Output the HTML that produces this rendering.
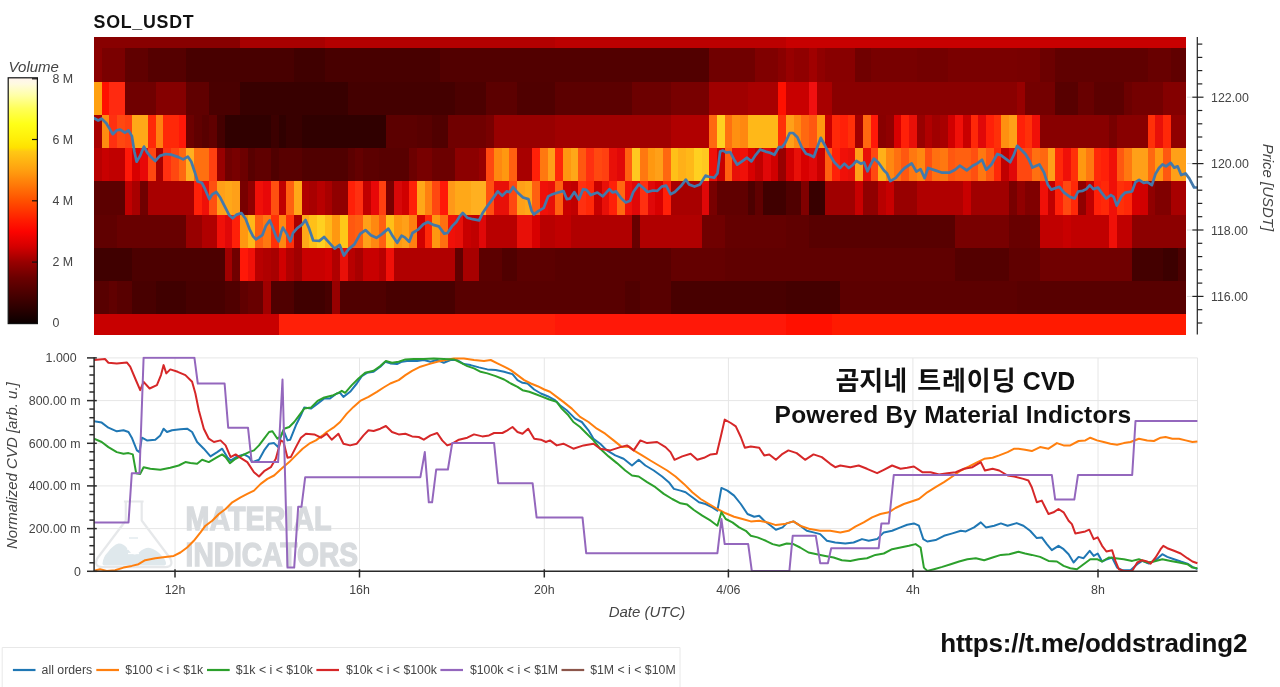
<!DOCTYPE html>
<html lang="ko"><head><meta charset="utf-8"><title>SOL_USDT CVD</title>
<style>
html,body{margin:0;padding:0;background:#fff;}
body{width:1280px;height:687px;overflow:hidden;position:relative;font-family:"Liberation Sans", Arial, sans-serif;}
svg{position:absolute;left:0;top:0;display:block;}
text{font-family:"Liberation Sans", Arial, sans-serif;}
.tk{font-size:12.4px;fill:#444;}
.lg{font-size:12.3px;fill:#444;}
.ax{font-size:15px;font-style:italic;fill:#444;}
.k{font-family:"Liberation Sans", "Noto Sans CJK KR", "NanumGothic", sans-serif;font-weight:bold;fill:#111;}
</style></head><body>
<svg width="1280" height="687" viewBox="0 0 1280 687">
<defs>
<linearGradient id="cb" x1="0" y1="1" x2="0" y2="0">
<stop offset="0.0000" stop-color="#0a0000"/>
<stop offset="0.0625" stop-color="#2c0000"/>
<stop offset="0.1250" stop-color="#4c0000"/>
<stop offset="0.1875" stop-color="#6c0000"/>
<stop offset="0.2500" stop-color="#980000"/>
<stop offset="0.3125" stop-color="#d40000"/>
<stop offset="0.3750" stop-color="#fc0400"/>
<stop offset="0.4200" stop-color="#ff1c00"/>
<stop offset="0.5000" stop-color="#ff5000"/>
<stop offset="0.5625" stop-color="#ff7808"/>
<stop offset="0.6250" stop-color="#ffa010"/>
<stop offset="0.7000" stop-color="#ffc814"/>
<stop offset="0.7150" stop-color="#ffe000"/>
<stop offset="0.7500" stop-color="#ffee08"/>
<stop offset="0.8125" stop-color="#ffff18"/>
<stop offset="0.8750" stop-color="#ffff58"/>
<stop offset="0.9300" stop-color="#ffffa8"/>
<stop offset="0.9750" stop-color="#fffae0"/>
<stop offset="1.0000" stop-color="#fff4ee"/>
</linearGradient>
<clipPath id="cp1"><rect x="94" y="37" width="1104" height="298"/></clipPath>
<clipPath id="cp2"><rect x="94" y="356.5" width="1104" height="215.5"/></clipPath>
</defs>
<rect x="0" y="0" width="1280" height="687" fill="#ffffff"/>
<text x="93.6" y="27.5" font-size="17.8" font-weight="bold" fill="#111" textLength="100" lengthAdjust="spacing">SOL_USDT</text>
<g shape-rendering="crispEdges">
<rect x="94.00" y="37.00" width="146.41" height="11.30" fill="#880000"/>
<rect x="240.11" y="37.00" width="84.89" height="11.30" fill="#a80000"/>
<rect x="324.70" y="37.00" width="231.00" height="11.30" fill="#b40000"/>
<rect x="555.41" y="37.00" width="231.00" height="11.30" fill="#bc0000"/>
<rect x="786.11" y="37.00" width="400.19" height="11.30" fill="#c80000"/>
<rect x="94.00" y="48.00" width="7.99" height="33.80" fill="#8a0000"/>
<rect x="101.69" y="48.00" width="23.37" height="33.80" fill="#7a0000"/>
<rect x="124.76" y="48.00" width="23.37" height="33.80" fill="#600000"/>
<rect x="147.83" y="48.00" width="38.75" height="33.80" fill="#550000"/>
<rect x="186.28" y="48.00" width="107.96" height="33.80" fill="#480000"/>
<rect x="293.94" y="48.00" width="31.06" height="33.80" fill="#400000"/>
<rect x="324.70" y="48.00" width="115.65" height="33.80" fill="#480000"/>
<rect x="440.06" y="48.00" width="269.45" height="33.80" fill="#520000"/>
<rect x="709.21" y="48.00" width="46.44" height="33.80" fill="#700000"/>
<rect x="755.35" y="48.00" width="23.37" height="33.80" fill="#800000"/>
<rect x="778.42" y="48.00" width="7.99" height="33.80" fill="#8a0000"/>
<rect x="786.11" y="48.00" width="7.99" height="33.80" fill="#980000"/>
<rect x="793.80" y="48.00" width="15.68" height="33.80" fill="#900000"/>
<rect x="809.18" y="48.00" width="7.99" height="33.80" fill="#a00000"/>
<rect x="816.87" y="48.00" width="7.99" height="33.80" fill="#900000"/>
<rect x="824.56" y="48.00" width="31.06" height="33.80" fill="#880000"/>
<rect x="855.32" y="48.00" width="15.68" height="33.80" fill="#700000"/>
<rect x="870.70" y="48.00" width="46.44" height="33.80" fill="#780000"/>
<rect x="916.85" y="48.00" width="31.06" height="33.80" fill="#740000"/>
<rect x="947.61" y="48.00" width="69.51" height="33.80" fill="#7a0000"/>
<rect x="1016.82" y="48.00" width="23.37" height="33.80" fill="#780000"/>
<rect x="1039.89" y="48.00" width="15.68" height="33.80" fill="#6c0000"/>
<rect x="1055.27" y="48.00" width="92.58" height="33.80" fill="#600000"/>
<rect x="1147.55" y="48.00" width="23.37" height="33.80" fill="#680000"/>
<rect x="1170.62" y="48.00" width="15.68" height="33.80" fill="#600000"/>
<rect x="94.00" y="81.50" width="7.99" height="33.80" fill="#ffa010"/>
<rect x="101.69" y="81.50" width="7.99" height="33.80" fill="#ff1000"/>
<rect x="109.38" y="81.50" width="15.68" height="33.80" fill="#ff2a10"/>
<rect x="124.76" y="81.50" width="31.06" height="33.80" fill="#700000"/>
<rect x="155.52" y="81.50" width="31.06" height="33.80" fill="#850000"/>
<rect x="186.28" y="81.50" width="23.37" height="33.80" fill="#600000"/>
<rect x="209.35" y="81.50" width="31.06" height="33.80" fill="#4a0000"/>
<rect x="240.11" y="81.50" width="107.96" height="33.80" fill="#380000"/>
<rect x="347.77" y="81.50" width="107.96" height="33.80" fill="#440000"/>
<rect x="455.44" y="81.50" width="31.06" height="33.80" fill="#4c0000"/>
<rect x="486.20" y="81.50" width="31.06" height="33.80" fill="#5c0000"/>
<rect x="516.96" y="81.50" width="38.75" height="33.80" fill="#500000"/>
<rect x="555.41" y="81.50" width="77.20" height="33.80" fill="#5c0000"/>
<rect x="632.31" y="81.50" width="38.75" height="33.80" fill="#6c0000"/>
<rect x="670.76" y="81.50" width="38.75" height="33.80" fill="#780000"/>
<rect x="709.21" y="81.50" width="38.75" height="33.80" fill="#a00000"/>
<rect x="747.66" y="81.50" width="31.06" height="33.80" fill="#a80000"/>
<rect x="778.42" y="81.50" width="7.99" height="33.80" fill="#ff1000"/>
<rect x="786.11" y="81.50" width="23.37" height="33.80" fill="#c80000"/>
<rect x="809.18" y="81.50" width="7.99" height="33.80" fill="#f01010"/>
<rect x="816.87" y="81.50" width="15.68" height="33.80" fill="#a80000"/>
<rect x="832.25" y="81.50" width="184.86" height="33.80" fill="#8a0000"/>
<rect x="1016.82" y="81.50" width="7.99" height="33.80" fill="#980000"/>
<rect x="1024.51" y="81.50" width="31.06" height="33.80" fill="#740000"/>
<rect x="1055.27" y="81.50" width="23.37" height="33.80" fill="#580000"/>
<rect x="1078.34" y="81.50" width="15.68" height="33.80" fill="#680000"/>
<rect x="1093.72" y="81.50" width="31.06" height="33.80" fill="#5c0000"/>
<rect x="1124.48" y="81.50" width="7.99" height="33.80" fill="#6c0000"/>
<rect x="1132.17" y="81.50" width="31.06" height="33.80" fill="#740000"/>
<rect x="1162.93" y="81.50" width="23.37" height="33.80" fill="#840000"/>
<rect x="94.00" y="115.00" width="7.99" height="33.30" fill="#a80000"/>
<rect x="101.69" y="115.00" width="7.99" height="33.30" fill="#ff8c10"/>
<rect x="109.38" y="115.00" width="7.99" height="33.30" fill="#ff3010"/>
<rect x="117.07" y="115.00" width="7.99" height="33.30" fill="#ff4810"/>
<rect x="124.76" y="115.00" width="7.99" height="33.30" fill="#ff4010"/>
<rect x="132.45" y="115.00" width="15.68" height="33.30" fill="#ffa818"/>
<rect x="147.83" y="115.00" width="7.99" height="33.30" fill="#ff2808"/>
<rect x="155.52" y="115.00" width="7.99" height="33.30" fill="#ff8010"/>
<rect x="163.21" y="115.00" width="15.68" height="33.30" fill="#ff2808"/>
<rect x="178.59" y="115.00" width="7.99" height="33.30" fill="#ff1808"/>
<rect x="186.28" y="115.00" width="7.99" height="33.30" fill="#6c0000"/>
<rect x="193.97" y="115.00" width="7.99" height="33.30" fill="#600000"/>
<rect x="201.66" y="115.00" width="7.99" height="33.30" fill="#580000"/>
<rect x="209.35" y="115.00" width="7.99" height="33.30" fill="#600000"/>
<rect x="217.04" y="115.00" width="7.99" height="33.30" fill="#440000"/>
<rect x="224.73" y="115.00" width="46.44" height="33.30" fill="#300000"/>
<rect x="270.87" y="115.00" width="7.99" height="33.30" fill="#3c0000"/>
<rect x="278.56" y="115.00" width="7.99" height="33.30" fill="#300000"/>
<rect x="286.25" y="115.00" width="15.68" height="33.30" fill="#380000"/>
<rect x="301.63" y="115.00" width="84.89" height="33.30" fill="#300000"/>
<rect x="386.23" y="115.00" width="31.06" height="33.30" fill="#5c0000"/>
<rect x="416.99" y="115.00" width="15.68" height="33.30" fill="#580000"/>
<rect x="432.37" y="115.00" width="15.68" height="33.30" fill="#500000"/>
<rect x="447.75" y="115.00" width="38.75" height="33.30" fill="#700000"/>
<rect x="486.20" y="115.00" width="7.99" height="33.30" fill="#780000"/>
<rect x="493.89" y="115.00" width="61.82" height="33.30" fill="#980000"/>
<rect x="555.41" y="115.00" width="115.65" height="33.30" fill="#a00000"/>
<rect x="670.76" y="115.00" width="38.75" height="33.30" fill="#b00000"/>
<rect x="709.21" y="115.00" width="7.99" height="33.30" fill="#ff6810"/>
<rect x="716.90" y="115.00" width="7.99" height="33.30" fill="#ffd020"/>
<rect x="724.59" y="115.00" width="7.99" height="33.30" fill="#ff7010"/>
<rect x="732.28" y="115.00" width="7.99" height="33.30" fill="#ff9010"/>
<rect x="739.97" y="115.00" width="7.99" height="33.30" fill="#ff8810"/>
<rect x="747.66" y="115.00" width="31.06" height="33.30" fill="#ffb818"/>
<rect x="778.42" y="115.00" width="7.99" height="33.30" fill="#ff3008"/>
<rect x="786.11" y="115.00" width="7.99" height="33.30" fill="#ffa018"/>
<rect x="793.80" y="115.00" width="7.99" height="33.30" fill="#ff8810"/>
<rect x="801.49" y="115.00" width="7.99" height="33.30" fill="#ff6810"/>
<rect x="809.18" y="115.00" width="7.99" height="33.30" fill="#ff5810"/>
<rect x="816.87" y="115.00" width="7.99" height="33.30" fill="#ff9810"/>
<rect x="824.56" y="115.00" width="7.99" height="33.30" fill="#c80000"/>
<rect x="832.25" y="115.00" width="7.99" height="33.30" fill="#ff2808"/>
<rect x="839.94" y="115.00" width="7.99" height="33.30" fill="#ff2008"/>
<rect x="847.63" y="115.00" width="7.99" height="33.30" fill="#ff3008"/>
<rect x="855.32" y="115.00" width="7.99" height="33.30" fill="#a00000"/>
<rect x="863.01" y="115.00" width="7.99" height="33.30" fill="#ff6810"/>
<rect x="870.70" y="115.00" width="7.99" height="33.30" fill="#ff1808"/>
<rect x="878.39" y="115.00" width="7.99" height="33.30" fill="#880000"/>
<rect x="886.08" y="115.00" width="7.99" height="33.30" fill="#900000"/>
<rect x="893.77" y="115.00" width="7.99" height="33.30" fill="#d80000"/>
<rect x="901.46" y="115.00" width="7.99" height="33.30" fill="#ff2008"/>
<rect x="909.15" y="115.00" width="7.99" height="33.30" fill="#e81008"/>
<rect x="916.85" y="115.00" width="7.99" height="33.30" fill="#980000"/>
<rect x="924.54" y="115.00" width="7.99" height="33.30" fill="#b00000"/>
<rect x="932.23" y="115.00" width="7.99" height="33.30" fill="#a00000"/>
<rect x="939.92" y="115.00" width="7.99" height="33.30" fill="#a80000"/>
<rect x="947.61" y="115.00" width="7.99" height="33.30" fill="#d00000"/>
<rect x="955.30" y="115.00" width="7.99" height="33.30" fill="#f01008"/>
<rect x="962.99" y="115.00" width="7.99" height="33.30" fill="#c80000"/>
<rect x="970.68" y="115.00" width="7.99" height="33.30" fill="#ff2808"/>
<rect x="978.37" y="115.00" width="7.99" height="33.30" fill="#e00808"/>
<rect x="986.06" y="115.00" width="7.99" height="33.30" fill="#ff2008"/>
<rect x="993.75" y="115.00" width="7.99" height="33.30" fill="#ff3008"/>
<rect x="1001.44" y="115.00" width="7.99" height="33.30" fill="#ff9010"/>
<rect x="1009.13" y="115.00" width="7.99" height="33.30" fill="#ffa018"/>
<rect x="1016.82" y="115.00" width="7.99" height="33.30" fill="#ff2008"/>
<rect x="1024.51" y="115.00" width="7.99" height="33.30" fill="#ff3008"/>
<rect x="1032.20" y="115.00" width="7.99" height="33.30" fill="#f01008"/>
<rect x="1039.89" y="115.00" width="69.51" height="33.30" fill="#880000"/>
<rect x="1109.10" y="115.00" width="7.99" height="33.30" fill="#780000"/>
<rect x="1116.79" y="115.00" width="31.06" height="33.30" fill="#880000"/>
<rect x="1147.55" y="115.00" width="7.99" height="33.30" fill="#ff3008"/>
<rect x="1155.24" y="115.00" width="7.99" height="33.30" fill="#e81008"/>
<rect x="1162.93" y="115.00" width="7.99" height="33.30" fill="#ff2808"/>
<rect x="1170.62" y="115.00" width="15.68" height="33.30" fill="#900000"/>
<rect x="94.00" y="148.00" width="7.99" height="33.30" fill="#b80000"/>
<rect x="101.69" y="148.00" width="7.99" height="33.30" fill="#c80000"/>
<rect x="109.38" y="148.00" width="15.68" height="33.30" fill="#c00000"/>
<rect x="124.76" y="148.00" width="7.99" height="33.30" fill="#ff1808"/>
<rect x="132.45" y="148.00" width="7.99" height="33.30" fill="#d80000"/>
<rect x="140.14" y="148.00" width="7.99" height="33.30" fill="#e80808"/>
<rect x="147.83" y="148.00" width="7.99" height="33.30" fill="#ff4810"/>
<rect x="155.52" y="148.00" width="7.99" height="33.30" fill="#a80000"/>
<rect x="163.21" y="148.00" width="7.99" height="33.30" fill="#ff3010"/>
<rect x="170.90" y="148.00" width="7.99" height="33.30" fill="#ff4810"/>
<rect x="178.59" y="148.00" width="7.99" height="33.30" fill="#ff6810"/>
<rect x="186.28" y="148.00" width="7.99" height="33.30" fill="#ffb020"/>
<rect x="193.97" y="148.00" width="15.68" height="33.30" fill="#ff7010"/>
<rect x="209.35" y="148.00" width="7.99" height="33.30" fill="#ff4010"/>
<rect x="217.04" y="148.00" width="7.99" height="33.30" fill="#980000"/>
<rect x="224.73" y="148.00" width="7.99" height="33.30" fill="#700000"/>
<rect x="232.42" y="148.00" width="7.99" height="33.30" fill="#780000"/>
<rect x="240.11" y="148.00" width="7.99" height="33.30" fill="#6c0000"/>
<rect x="247.80" y="148.00" width="7.99" height="33.30" fill="#580000"/>
<rect x="255.49" y="148.00" width="15.68" height="33.30" fill="#600000"/>
<rect x="270.87" y="148.00" width="7.99" height="33.30" fill="#500000"/>
<rect x="278.56" y="148.00" width="23.37" height="33.30" fill="#580000"/>
<rect x="301.63" y="148.00" width="46.44" height="33.30" fill="#500000"/>
<rect x="347.77" y="148.00" width="7.99" height="33.30" fill="#5c0000"/>
<rect x="355.46" y="148.00" width="7.99" height="33.30" fill="#640000"/>
<rect x="363.15" y="148.00" width="15.68" height="33.30" fill="#5c0000"/>
<rect x="378.54" y="148.00" width="31.06" height="33.30" fill="#580000"/>
<rect x="409.30" y="148.00" width="7.99" height="33.30" fill="#6c0000"/>
<rect x="416.99" y="148.00" width="15.68" height="33.30" fill="#780000"/>
<rect x="432.37" y="148.00" width="23.37" height="33.30" fill="#6c0000"/>
<rect x="455.44" y="148.00" width="23.37" height="33.30" fill="#8c0000"/>
<rect x="478.51" y="148.00" width="7.99" height="33.30" fill="#980000"/>
<rect x="486.20" y="148.00" width="7.99" height="33.30" fill="#ff4810"/>
<rect x="493.89" y="148.00" width="7.99" height="33.30" fill="#ff8810"/>
<rect x="501.58" y="148.00" width="7.99" height="33.30" fill="#ff9810"/>
<rect x="509.27" y="148.00" width="7.99" height="33.30" fill="#ff6010"/>
<rect x="516.96" y="148.00" width="15.68" height="33.30" fill="#a80000"/>
<rect x="532.34" y="148.00" width="7.99" height="33.30" fill="#ff2008"/>
<rect x="540.03" y="148.00" width="7.99" height="33.30" fill="#ff7810"/>
<rect x="547.72" y="148.00" width="7.99" height="33.30" fill="#ffa018"/>
<rect x="555.41" y="148.00" width="7.99" height="33.30" fill="#ff2808"/>
<rect x="563.10" y="148.00" width="7.99" height="33.30" fill="#ff9810"/>
<rect x="570.79" y="148.00" width="7.99" height="33.30" fill="#ffa818"/>
<rect x="578.48" y="148.00" width="7.99" height="33.30" fill="#ff5810"/>
<rect x="586.17" y="148.00" width="7.99" height="33.30" fill="#ff3010"/>
<rect x="593.86" y="148.00" width="7.99" height="33.30" fill="#ff4810"/>
<rect x="601.55" y="148.00" width="7.99" height="33.30" fill="#ff4010"/>
<rect x="609.24" y="148.00" width="7.99" height="33.30" fill="#e81008"/>
<rect x="616.93" y="148.00" width="7.99" height="33.30" fill="#e00808"/>
<rect x="624.62" y="148.00" width="7.99" height="33.30" fill="#ff6010"/>
<rect x="632.31" y="148.00" width="7.99" height="33.30" fill="#ffc820"/>
<rect x="640.00" y="148.00" width="7.99" height="33.30" fill="#ff7810"/>
<rect x="647.69" y="148.00" width="7.99" height="33.30" fill="#ff9810"/>
<rect x="655.38" y="148.00" width="7.99" height="33.30" fill="#ffa018"/>
<rect x="663.07" y="148.00" width="7.99" height="33.30" fill="#ff6810"/>
<rect x="670.76" y="148.00" width="7.99" height="33.30" fill="#ffc018"/>
<rect x="678.45" y="148.00" width="7.99" height="33.30" fill="#ffb018"/>
<rect x="686.14" y="148.00" width="7.99" height="33.30" fill="#ffb818"/>
<rect x="693.83" y="148.00" width="7.99" height="33.30" fill="#ffd020"/>
<rect x="701.52" y="148.00" width="7.99" height="33.30" fill="#ffc820"/>
<rect x="709.21" y="148.00" width="7.99" height="33.30" fill="#f01008"/>
<rect x="716.90" y="148.00" width="7.99" height="33.30" fill="#c80000"/>
<rect x="724.59" y="148.00" width="7.99" height="33.30" fill="#ff6010"/>
<rect x="732.28" y="148.00" width="7.99" height="33.30" fill="#e81008"/>
<rect x="739.97" y="148.00" width="7.99" height="33.30" fill="#f01008"/>
<rect x="747.66" y="148.00" width="7.99" height="33.30" fill="#d80000"/>
<rect x="755.35" y="148.00" width="7.99" height="33.30" fill="#c00000"/>
<rect x="763.04" y="148.00" width="7.99" height="33.30" fill="#e00808"/>
<rect x="770.73" y="148.00" width="7.99" height="33.30" fill="#d00000"/>
<rect x="778.42" y="148.00" width="7.99" height="33.30" fill="#980000"/>
<rect x="786.11" y="148.00" width="7.99" height="33.30" fill="#d00000"/>
<rect x="793.80" y="148.00" width="7.99" height="33.30" fill="#e81008"/>
<rect x="801.49" y="148.00" width="7.99" height="33.30" fill="#d80000"/>
<rect x="809.18" y="148.00" width="7.99" height="33.30" fill="#e00808"/>
<rect x="816.87" y="148.00" width="7.99" height="33.30" fill="#c80000"/>
<rect x="824.56" y="148.00" width="7.99" height="33.30" fill="#ff6010"/>
<rect x="832.25" y="148.00" width="7.99" height="33.30" fill="#ff2008"/>
<rect x="839.94" y="148.00" width="7.99" height="33.30" fill="#f01008"/>
<rect x="847.63" y="148.00" width="7.99" height="33.30" fill="#e81008"/>
<rect x="855.32" y="148.00" width="7.99" height="33.30" fill="#ffa018"/>
<rect x="863.01" y="148.00" width="7.99" height="33.30" fill="#e81008"/>
<rect x="870.70" y="148.00" width="7.99" height="33.30" fill="#ff4810"/>
<rect x="878.39" y="148.00" width="7.99" height="33.30" fill="#ffb018"/>
<rect x="886.08" y="148.00" width="7.99" height="33.30" fill="#ff8810"/>
<rect x="893.77" y="148.00" width="7.99" height="33.30" fill="#ff7010"/>
<rect x="901.46" y="148.00" width="7.99" height="33.30" fill="#ff5810"/>
<rect x="909.15" y="148.00" width="7.99" height="33.30" fill="#ff7810"/>
<rect x="916.85" y="148.00" width="7.99" height="33.30" fill="#ff8810"/>
<rect x="924.54" y="148.00" width="7.99" height="33.30" fill="#ff5010"/>
<rect x="932.23" y="148.00" width="7.99" height="33.30" fill="#ff7010"/>
<rect x="939.92" y="148.00" width="7.99" height="33.30" fill="#ff7810"/>
<rect x="947.61" y="148.00" width="7.99" height="33.30" fill="#ff5810"/>
<rect x="955.30" y="148.00" width="15.68" height="33.30" fill="#ff6010"/>
<rect x="970.68" y="148.00" width="7.99" height="33.30" fill="#ff5010"/>
<rect x="978.37" y="148.00" width="7.99" height="33.30" fill="#ff7810"/>
<rect x="986.06" y="148.00" width="7.99" height="33.30" fill="#ff5810"/>
<rect x="993.75" y="148.00" width="7.99" height="33.30" fill="#ff2808"/>
<rect x="1001.44" y="148.00" width="7.99" height="33.30" fill="#c00000"/>
<rect x="1009.13" y="148.00" width="7.99" height="33.30" fill="#e00808"/>
<rect x="1016.82" y="148.00" width="15.68" height="33.30" fill="#ff4810"/>
<rect x="1032.20" y="148.00" width="7.99" height="33.30" fill="#ff7010"/>
<rect x="1039.89" y="148.00" width="7.99" height="33.30" fill="#ff6810"/>
<rect x="1047.58" y="148.00" width="7.99" height="33.30" fill="#ffa018"/>
<rect x="1055.27" y="148.00" width="7.99" height="33.30" fill="#ff2808"/>
<rect x="1062.96" y="148.00" width="7.99" height="33.30" fill="#f01008"/>
<rect x="1070.65" y="148.00" width="7.99" height="33.30" fill="#ff3008"/>
<rect x="1078.34" y="148.00" width="7.99" height="33.30" fill="#ff9810"/>
<rect x="1086.03" y="148.00" width="7.99" height="33.30" fill="#ff7810"/>
<rect x="1093.72" y="148.00" width="7.99" height="33.30" fill="#ff2808"/>
<rect x="1101.41" y="148.00" width="7.99" height="33.30" fill="#ff2008"/>
<rect x="1109.10" y="148.00" width="7.99" height="33.30" fill="#f01008"/>
<rect x="1116.79" y="148.00" width="7.99" height="33.30" fill="#ff5810"/>
<rect x="1124.48" y="148.00" width="7.99" height="33.30" fill="#ff7810"/>
<rect x="1132.17" y="148.00" width="15.68" height="33.30" fill="#ffa018"/>
<rect x="1147.55" y="148.00" width="7.99" height="33.30" fill="#ff6810"/>
<rect x="1155.24" y="148.00" width="7.99" height="33.30" fill="#ff9810"/>
<rect x="1162.93" y="148.00" width="7.99" height="33.30" fill="#ff5810"/>
<rect x="1170.62" y="148.00" width="15.68" height="33.30" fill="#ffa018"/>
<rect x="94.00" y="181.00" width="31.06" height="33.80" fill="#5c0000"/>
<rect x="124.76" y="181.00" width="7.99" height="33.80" fill="#c00000"/>
<rect x="132.45" y="181.00" width="7.99" height="33.80" fill="#a80000"/>
<rect x="140.14" y="181.00" width="7.99" height="33.80" fill="#700000"/>
<rect x="147.83" y="181.00" width="46.44" height="33.80" fill="#a80000"/>
<rect x="193.97" y="181.00" width="7.99" height="33.80" fill="#ff2008"/>
<rect x="201.66" y="181.00" width="7.99" height="33.80" fill="#f01008"/>
<rect x="209.35" y="181.00" width="7.99" height="33.80" fill="#ff5010"/>
<rect x="217.04" y="181.00" width="7.99" height="33.80" fill="#ffa018"/>
<rect x="224.73" y="181.00" width="7.99" height="33.80" fill="#ffa818"/>
<rect x="232.42" y="181.00" width="7.99" height="33.80" fill="#ffa018"/>
<rect x="240.11" y="181.00" width="7.99" height="33.80" fill="#780000"/>
<rect x="247.80" y="181.00" width="7.99" height="33.80" fill="#900000"/>
<rect x="255.49" y="181.00" width="7.99" height="33.80" fill="#f01008"/>
<rect x="263.18" y="181.00" width="7.99" height="33.80" fill="#e80808"/>
<rect x="270.87" y="181.00" width="7.99" height="33.80" fill="#ff5010"/>
<rect x="278.56" y="181.00" width="7.99" height="33.80" fill="#c00000"/>
<rect x="286.25" y="181.00" width="7.99" height="33.80" fill="#ff6010"/>
<rect x="293.94" y="181.00" width="7.99" height="33.80" fill="#ffa818"/>
<rect x="301.63" y="181.00" width="7.99" height="33.80" fill="#b00000"/>
<rect x="309.32" y="181.00" width="7.99" height="33.80" fill="#a80000"/>
<rect x="317.01" y="181.00" width="7.99" height="33.80" fill="#b80000"/>
<rect x="324.70" y="181.00" width="7.99" height="33.80" fill="#a80000"/>
<rect x="332.39" y="181.00" width="15.68" height="33.80" fill="#900000"/>
<rect x="347.77" y="181.00" width="7.99" height="33.80" fill="#ff2008"/>
<rect x="355.46" y="181.00" width="7.99" height="33.80" fill="#ff3010"/>
<rect x="363.15" y="181.00" width="7.99" height="33.80" fill="#c00000"/>
<rect x="370.85" y="181.00" width="7.99" height="33.80" fill="#e80808"/>
<rect x="378.54" y="181.00" width="7.99" height="33.80" fill="#ff4010"/>
<rect x="386.23" y="181.00" width="7.99" height="33.80" fill="#780000"/>
<rect x="393.92" y="181.00" width="7.99" height="33.80" fill="#d80808"/>
<rect x="401.61" y="181.00" width="7.99" height="33.80" fill="#d00000"/>
<rect x="409.30" y="181.00" width="7.99" height="33.80" fill="#ff2008"/>
<rect x="416.99" y="181.00" width="7.99" height="33.80" fill="#ffa818"/>
<rect x="424.68" y="181.00" width="7.99" height="33.80" fill="#ff8010"/>
<rect x="432.37" y="181.00" width="7.99" height="33.80" fill="#ff4810"/>
<rect x="440.06" y="181.00" width="7.99" height="33.80" fill="#ff1808"/>
<rect x="447.75" y="181.00" width="7.99" height="33.80" fill="#ff9818"/>
<rect x="455.44" y="181.00" width="15.68" height="33.80" fill="#ffa818"/>
<rect x="470.82" y="181.00" width="15.68" height="33.80" fill="#ffb020"/>
<rect x="486.20" y="181.00" width="7.99" height="33.80" fill="#ff5010"/>
<rect x="493.89" y="181.00" width="15.68" height="33.80" fill="#e81008"/>
<rect x="509.27" y="181.00" width="7.99" height="33.80" fill="#ff4810"/>
<rect x="516.96" y="181.00" width="7.99" height="33.80" fill="#ffa018"/>
<rect x="524.65" y="181.00" width="7.99" height="33.80" fill="#ffa818"/>
<rect x="532.34" y="181.00" width="7.99" height="33.80" fill="#ff6010"/>
<rect x="540.03" y="181.00" width="7.99" height="33.80" fill="#f01008"/>
<rect x="547.72" y="181.00" width="7.99" height="33.80" fill="#e81008"/>
<rect x="555.41" y="181.00" width="7.99" height="33.80" fill="#ff6010"/>
<rect x="563.10" y="181.00" width="7.99" height="33.80" fill="#c80000"/>
<rect x="570.79" y="181.00" width="7.99" height="33.80" fill="#c00000"/>
<rect x="578.48" y="181.00" width="7.99" height="33.80" fill="#ff3010"/>
<rect x="586.17" y="181.00" width="7.99" height="33.80" fill="#ff2808"/>
<rect x="593.86" y="181.00" width="7.99" height="33.80" fill="#c80000"/>
<rect x="601.55" y="181.00" width="7.99" height="33.80" fill="#e81008"/>
<rect x="609.24" y="181.00" width="7.99" height="33.80" fill="#ff2008"/>
<rect x="616.93" y="181.00" width="7.99" height="33.80" fill="#ff6810"/>
<rect x="624.62" y="181.00" width="7.99" height="33.80" fill="#f01008"/>
<rect x="632.31" y="181.00" width="7.99" height="33.80" fill="#e00808"/>
<rect x="640.00" y="181.00" width="7.99" height="33.80" fill="#ff3010"/>
<rect x="647.69" y="181.00" width="7.99" height="33.80" fill="#e00808"/>
<rect x="655.38" y="181.00" width="7.99" height="33.80" fill="#d80000"/>
<rect x="663.07" y="181.00" width="7.99" height="33.80" fill="#ff2008"/>
<rect x="670.76" y="181.00" width="31.06" height="33.80" fill="#a80000"/>
<rect x="701.52" y="181.00" width="7.99" height="33.80" fill="#e00808"/>
<rect x="709.21" y="181.00" width="7.99" height="33.80" fill="#780000"/>
<rect x="716.90" y="181.00" width="31.06" height="33.80" fill="#600000"/>
<rect x="747.66" y="181.00" width="7.99" height="33.80" fill="#4c0000"/>
<rect x="755.35" y="181.00" width="7.99" height="33.80" fill="#600000"/>
<rect x="763.04" y="181.00" width="23.37" height="33.80" fill="#400000"/>
<rect x="786.11" y="181.00" width="15.68" height="33.80" fill="#500000"/>
<rect x="801.49" y="181.00" width="7.99" height="33.80" fill="#800000"/>
<rect x="809.18" y="181.00" width="15.68" height="33.80" fill="#380000"/>
<rect x="824.56" y="181.00" width="31.06" height="33.80" fill="#a00000"/>
<rect x="855.32" y="181.00" width="7.99" height="33.80" fill="#c80000"/>
<rect x="863.01" y="181.00" width="15.68" height="33.80" fill="#900000"/>
<rect x="878.39" y="181.00" width="7.99" height="33.80" fill="#b80000"/>
<rect x="886.08" y="181.00" width="7.99" height="33.80" fill="#c80000"/>
<rect x="893.77" y="181.00" width="23.37" height="33.80" fill="#980000"/>
<rect x="916.85" y="181.00" width="46.44" height="33.80" fill="#b00000"/>
<rect x="962.99" y="181.00" width="7.99" height="33.80" fill="#c80000"/>
<rect x="970.68" y="181.00" width="38.75" height="33.80" fill="#a00000"/>
<rect x="1009.13" y="181.00" width="7.99" height="33.80" fill="#780000"/>
<rect x="1016.82" y="181.00" width="7.99" height="33.80" fill="#900000"/>
<rect x="1024.51" y="181.00" width="15.68" height="33.80" fill="#800000"/>
<rect x="1039.89" y="181.00" width="7.99" height="33.80" fill="#f01008"/>
<rect x="1047.58" y="181.00" width="7.99" height="33.80" fill="#c00000"/>
<rect x="1055.27" y="181.00" width="7.99" height="33.80" fill="#ff2008"/>
<rect x="1062.96" y="181.00" width="7.99" height="33.80" fill="#ff4810"/>
<rect x="1070.65" y="181.00" width="7.99" height="33.80" fill="#ff2808"/>
<rect x="1078.34" y="181.00" width="7.99" height="33.80" fill="#900000"/>
<rect x="1086.03" y="181.00" width="7.99" height="33.80" fill="#c00000"/>
<rect x="1093.72" y="181.00" width="7.99" height="33.80" fill="#ff2008"/>
<rect x="1101.41" y="181.00" width="7.99" height="33.80" fill="#ff2808"/>
<rect x="1109.10" y="181.00" width="7.99" height="33.80" fill="#f01008"/>
<rect x="1116.79" y="181.00" width="7.99" height="33.80" fill="#ff3008"/>
<rect x="1124.48" y="181.00" width="7.99" height="33.80" fill="#ff2808"/>
<rect x="1132.17" y="181.00" width="7.99" height="33.80" fill="#d80000"/>
<rect x="1139.86" y="181.00" width="7.99" height="33.80" fill="#d00000"/>
<rect x="1147.55" y="181.00" width="7.99" height="33.80" fill="#900000"/>
<rect x="1155.24" y="181.00" width="15.68" height="33.80" fill="#800000"/>
<rect x="1170.62" y="181.00" width="15.68" height="33.80" fill="#a80000"/>
<rect x="94.00" y="214.50" width="23.37" height="33.30" fill="#600000"/>
<rect x="117.07" y="214.50" width="69.51" height="33.30" fill="#680000"/>
<rect x="186.28" y="214.50" width="15.68" height="33.30" fill="#980000"/>
<rect x="201.66" y="214.50" width="15.68" height="33.30" fill="#b00000"/>
<rect x="217.04" y="214.50" width="7.99" height="33.30" fill="#f01008"/>
<rect x="224.73" y="214.50" width="7.99" height="33.30" fill="#e00808"/>
<rect x="232.42" y="214.50" width="7.99" height="33.30" fill="#ff2008"/>
<rect x="240.11" y="214.50" width="7.99" height="33.30" fill="#ff9810"/>
<rect x="247.80" y="214.50" width="7.99" height="33.30" fill="#ffb818"/>
<rect x="255.49" y="214.50" width="7.99" height="33.30" fill="#ff6010"/>
<rect x="263.18" y="214.50" width="7.99" height="33.30" fill="#ff7810"/>
<rect x="270.87" y="214.50" width="7.99" height="33.30" fill="#ff3008"/>
<rect x="278.56" y="214.50" width="7.99" height="33.30" fill="#ff8810"/>
<rect x="286.25" y="214.50" width="7.99" height="33.30" fill="#ff3008"/>
<rect x="293.94" y="214.50" width="7.99" height="33.30" fill="#a80000"/>
<rect x="301.63" y="214.50" width="7.99" height="33.30" fill="#ffa818"/>
<rect x="309.32" y="214.50" width="7.99" height="33.30" fill="#ffc018"/>
<rect x="317.01" y="214.50" width="7.99" height="33.30" fill="#ffd020"/>
<rect x="324.70" y="214.50" width="7.99" height="33.30" fill="#ffb818"/>
<rect x="332.39" y="214.50" width="7.99" height="33.30" fill="#ff9810"/>
<rect x="340.08" y="214.50" width="7.99" height="33.30" fill="#ffc818"/>
<rect x="347.77" y="214.50" width="7.99" height="33.30" fill="#ff5810"/>
<rect x="355.46" y="214.50" width="7.99" height="33.30" fill="#ff6010"/>
<rect x="363.15" y="214.50" width="7.99" height="33.30" fill="#ffa018"/>
<rect x="370.85" y="214.50" width="7.99" height="33.30" fill="#ff8810"/>
<rect x="378.54" y="214.50" width="7.99" height="33.30" fill="#ff6010"/>
<rect x="386.23" y="214.50" width="7.99" height="33.30" fill="#ffc018"/>
<rect x="393.92" y="214.50" width="7.99" height="33.30" fill="#ff9810"/>
<rect x="401.61" y="214.50" width="7.99" height="33.30" fill="#ffa018"/>
<rect x="409.30" y="214.50" width="7.99" height="33.30" fill="#ff8010"/>
<rect x="416.99" y="214.50" width="7.99" height="33.30" fill="#d00000"/>
<rect x="424.68" y="214.50" width="7.99" height="33.30" fill="#ff2808"/>
<rect x="432.37" y="214.50" width="7.99" height="33.30" fill="#ff9810"/>
<rect x="440.06" y="214.50" width="7.99" height="33.30" fill="#ff7010"/>
<rect x="447.75" y="214.50" width="7.99" height="33.30" fill="#f01008"/>
<rect x="455.44" y="214.50" width="7.99" height="33.30" fill="#e81008"/>
<rect x="463.13" y="214.50" width="7.99" height="33.30" fill="#c80000"/>
<rect x="470.82" y="214.50" width="7.99" height="33.30" fill="#c00000"/>
<rect x="478.51" y="214.50" width="7.99" height="33.30" fill="#e00808"/>
<rect x="486.20" y="214.50" width="31.06" height="33.30" fill="#b80000"/>
<rect x="516.96" y="214.50" width="15.68" height="33.30" fill="#e81008"/>
<rect x="532.34" y="214.50" width="7.99" height="33.30" fill="#d80000"/>
<rect x="540.03" y="214.50" width="15.68" height="33.30" fill="#b80000"/>
<rect x="555.41" y="214.50" width="15.68" height="33.30" fill="#c00000"/>
<rect x="570.79" y="214.50" width="61.82" height="33.30" fill="#b00000"/>
<rect x="632.31" y="214.50" width="7.99" height="33.30" fill="#680000"/>
<rect x="640.00" y="214.50" width="61.82" height="33.30" fill="#b00000"/>
<rect x="701.52" y="214.50" width="23.37" height="33.30" fill="#700000"/>
<rect x="724.59" y="214.50" width="61.82" height="33.30" fill="#640000"/>
<rect x="786.11" y="214.50" width="23.37" height="33.30" fill="#600000"/>
<rect x="809.18" y="214.50" width="146.41" height="33.30" fill="#580000"/>
<rect x="955.30" y="214.50" width="54.13" height="33.30" fill="#780000"/>
<rect x="1009.13" y="214.50" width="31.06" height="33.30" fill="#680000"/>
<rect x="1039.89" y="214.50" width="23.37" height="33.30" fill="#c00000"/>
<rect x="1062.96" y="214.50" width="7.99" height="33.30" fill="#c80000"/>
<rect x="1070.65" y="214.50" width="38.75" height="33.30" fill="#c00000"/>
<rect x="1109.10" y="214.50" width="7.99" height="33.30" fill="#f01008"/>
<rect x="1116.79" y="214.50" width="15.68" height="33.30" fill="#c00000"/>
<rect x="1132.17" y="214.50" width="54.13" height="33.30" fill="#8c0000"/>
<rect x="94.00" y="247.50" width="38.75" height="33.80" fill="#400000"/>
<rect x="132.45" y="247.50" width="92.58" height="33.80" fill="#4c0000"/>
<rect x="224.73" y="247.50" width="7.99" height="33.80" fill="#a00000"/>
<rect x="232.42" y="247.50" width="7.99" height="33.80" fill="#700000"/>
<rect x="240.11" y="247.50" width="7.99" height="33.80" fill="#ff1808"/>
<rect x="247.80" y="247.50" width="7.99" height="33.80" fill="#f01008"/>
<rect x="255.49" y="247.50" width="7.99" height="33.80" fill="#b80000"/>
<rect x="263.18" y="247.50" width="7.99" height="33.80" fill="#b00000"/>
<rect x="270.87" y="247.50" width="7.99" height="33.80" fill="#a80000"/>
<rect x="278.56" y="247.50" width="7.99" height="33.80" fill="#d00000"/>
<rect x="286.25" y="247.50" width="7.99" height="33.80" fill="#b00000"/>
<rect x="293.94" y="247.50" width="7.99" height="33.80" fill="#a00000"/>
<rect x="301.63" y="247.50" width="23.37" height="33.80" fill="#c80000"/>
<rect x="324.70" y="247.50" width="7.99" height="33.80" fill="#d00000"/>
<rect x="332.39" y="247.50" width="7.99" height="33.80" fill="#b00000"/>
<rect x="340.08" y="247.50" width="7.99" height="33.80" fill="#e81008"/>
<rect x="347.77" y="247.50" width="7.99" height="33.80" fill="#b80000"/>
<rect x="355.46" y="247.50" width="7.99" height="33.80" fill="#a80000"/>
<rect x="363.15" y="247.50" width="15.68" height="33.80" fill="#c80000"/>
<rect x="378.54" y="247.50" width="7.99" height="33.80" fill="#b80000"/>
<rect x="386.23" y="247.50" width="7.99" height="33.80" fill="#f01008"/>
<rect x="393.92" y="247.50" width="61.82" height="33.80" fill="#b00000"/>
<rect x="455.44" y="247.50" width="7.99" height="33.80" fill="#600000"/>
<rect x="463.13" y="247.50" width="15.68" height="33.80" fill="#a80000"/>
<rect x="478.51" y="247.50" width="23.37" height="33.80" fill="#5c0000"/>
<rect x="501.58" y="247.50" width="15.68" height="33.80" fill="#500000"/>
<rect x="516.96" y="247.50" width="38.75" height="33.80" fill="#5c0000"/>
<rect x="555.41" y="247.50" width="115.65" height="33.80" fill="#580000"/>
<rect x="670.76" y="247.50" width="54.13" height="33.80" fill="#640000"/>
<rect x="724.59" y="247.50" width="231.00" height="33.80" fill="#600000"/>
<rect x="955.30" y="247.50" width="54.13" height="33.80" fill="#540000"/>
<rect x="1009.13" y="247.50" width="31.06" height="33.80" fill="#600000"/>
<rect x="1039.89" y="247.50" width="92.58" height="33.80" fill="#700000"/>
<rect x="1132.17" y="247.50" width="31.06" height="33.80" fill="#440000"/>
<rect x="1162.93" y="247.50" width="15.68" height="33.80" fill="#3c0000"/>
<rect x="1178.31" y="247.50" width="7.99" height="33.80" fill="#4c0000"/>
<rect x="94.00" y="281.00" width="15.68" height="33.30" fill="#580000"/>
<rect x="109.38" y="281.00" width="7.99" height="33.30" fill="#600000"/>
<rect x="117.07" y="281.00" width="15.68" height="33.30" fill="#580000"/>
<rect x="132.45" y="281.00" width="23.37" height="33.30" fill="#480000"/>
<rect x="155.52" y="281.00" width="31.06" height="33.30" fill="#400000"/>
<rect x="186.28" y="281.00" width="38.75" height="33.30" fill="#480000"/>
<rect x="224.73" y="281.00" width="15.68" height="33.30" fill="#500000"/>
<rect x="240.11" y="281.00" width="7.99" height="33.30" fill="#600000"/>
<rect x="247.80" y="281.00" width="15.68" height="33.30" fill="#680000"/>
<rect x="263.18" y="281.00" width="7.99" height="33.30" fill="#a00000"/>
<rect x="270.87" y="281.00" width="23.37" height="33.30" fill="#500000"/>
<rect x="293.94" y="281.00" width="31.06" height="33.30" fill="#400000"/>
<rect x="324.70" y="281.00" width="7.99" height="33.30" fill="#480000"/>
<rect x="332.39" y="281.00" width="7.99" height="33.30" fill="#980000"/>
<rect x="340.08" y="281.00" width="46.44" height="33.30" fill="#500000"/>
<rect x="386.23" y="281.00" width="69.51" height="33.30" fill="#480000"/>
<rect x="455.44" y="281.00" width="169.48" height="33.30" fill="#580000"/>
<rect x="624.62" y="281.00" width="15.68" height="33.30" fill="#500000"/>
<rect x="640.00" y="281.00" width="31.06" height="33.30" fill="#580000"/>
<rect x="670.76" y="281.00" width="115.65" height="33.30" fill="#480000"/>
<rect x="786.11" y="281.00" width="54.13" height="33.30" fill="#440000"/>
<rect x="839.94" y="281.00" width="177.17" height="33.30" fill="#5c0000"/>
<rect x="1016.82" y="281.00" width="169.48" height="33.30" fill="#580000"/>
<rect x="94.00" y="314.00" width="184.86" height="20.80" fill="#c80000"/>
<rect x="278.56" y="314.00" width="277.15" height="20.80" fill="#ff2008"/>
<rect x="555.41" y="314.00" width="231.00" height="20.80" fill="#ff1808"/>
<rect x="786.11" y="314.00" width="46.44" height="20.80" fill="#ff1000"/>
<rect x="832.25" y="314.00" width="354.05" height="20.80" fill="#ff1a00"/>
</g>
<polyline clip-path="url(#cp1)" fill="none" stroke="#4379ab" stroke-width="2.7" stroke-linejoin="round" stroke-linecap="round" points="94.2,118.2 98.2,120.5 101.6,118.6 106.3,123.3 109.8,129.1 112.8,134.2 116.8,130.3 120.3,129.6 124.9,132.6 128.4,130.3 131.9,136.1 134.3,151.2 136.6,161.7 140.1,155.9 144.0,146.6 147.1,152.4 151.0,157.1 155.2,161.0 159.9,155.9 165.7,154.0 171.5,154.7 178.5,157.1 183.2,159.4 187.8,156.6 191.3,161.7 194.8,172.2 197.6,181.5 201.8,182.7 205.3,189.7 209.3,199.0 212.3,194.3 216.3,192.0 220.4,197.8 225.1,207.1 229.3,215.3 232.6,218.3 236.7,214.6 241.4,213.0 245.6,218.8 249.6,229.3 253.1,236.3 255.9,239.3 262.4,235.1 265.9,225.8 269.8,220.4 272.9,228.1 276.3,237.4 278.7,241.4 281.0,232.8 282.9,227.6 286.8,233.9 290.3,241.4 293.1,232.8 297.3,228.1 302.0,224.6 305.5,220.0 309.0,228.1 313.2,240.5 319.4,240.9 324.1,237.0 327.6,240.9 334.6,248.6 339.7,244.9 343.9,255.6 348.6,249.1 354.4,244.4 360.2,233.9 365.5,230.1 370.9,235.2 376.4,237.8 381.9,234.1 388.4,228.6 392.8,236.3 397.2,242.8 401.6,235.6 404.8,237.4 409.2,241.7 412.5,233.0 418.0,229.7 423.4,224.2 427.8,222.0 433.3,224.9 438.8,226.4 444.2,233.6 447.5,233.0 451.9,226.4 456.3,222.0 459.5,216.6 462.8,212.9 467.2,217.7 472.7,219.2 479.2,220.3 482.5,213.3 486.9,206.7 492.4,199.1 497.8,191.4 502.2,195.8 506.6,191.4 509.9,192.1 513.1,187.0 517.5,192.5 523.0,197.5 528.4,199.1 531.7,211.1 533.9,214.4 538.3,211.1 543.8,207.8 548.1,196.4 552.5,194.3 558.0,192.5 563.5,191.0 566.7,199.1 570.0,198.6 574.4,192.1 578.8,199.5 583.1,189.2 586.4,189.9 590.8,195.1 597.4,192.5 602.8,196.4 609.4,189.2 612.7,192.5 616.0,191.4 621.4,198.6 625.8,202.4 630.0,200.8 633.3,192.0 638.8,184.4 643.1,187.7 647.5,192.0 653.0,190.5 657.3,190.9 661.7,186.6 666.1,185.5 670.5,194.2 674.8,192.0 681.4,185.5 685.8,179.6 689.1,184.4 694.5,186.6 700.0,184.4 705.5,175.6 708.8,176.7 714.2,177.8 717.5,173.4 720.1,151.6 723.0,150.5 726.3,152.7 730.2,152.0 733.9,159.2 737.2,164.7 742.7,160.8 747.0,157.7 751.4,161.4 755.8,154.8 760.2,149.4 765.6,151.6 770.0,152.7 774.4,154.8 778.8,147.2 782.0,147.2 785.3,142.8 789.7,133.0 793.0,133.0 797.4,137.3 801.7,147.2 806.1,153.8 809.4,154.8 813.8,157.0 818.1,145.0 820.8,137.8 824.7,145.0 829.1,153.8 834.5,162.5 840.0,168.0 844.4,163.6 848.8,168.0 853.1,164.7 856.4,160.8 860.8,163.6 864.1,162.5 867.4,171.3 870.6,164.7 873.9,158.6 878.3,162.5 883.8,170.2 887.0,173.4 890.3,181.1 895.8,177.8 901.3,171.3 904.7,168.0 911.7,163.4 916.4,171.6 920.6,169.2 924.6,178.1 928.1,168.0 935.2,170.4 942.2,172.7 949.2,172.7 955.1,169.7 959.8,165.7 966.8,170.4 972.7,165.7 977.3,163.4 982.0,159.8 986.2,169.7 991.4,164.5 997.3,154.0 1000.8,155.2 1005.5,158.7 1010.2,162.2 1013.7,155.2 1017.2,145.8 1020.7,149.3 1025.4,154.0 1028.9,159.8 1032.4,167.6 1039.4,164.5 1044.1,172.7 1047.7,184.4 1051.2,189.6 1059.4,186.8 1064.1,192.7 1069.9,196.9 1074.6,198.5 1078.1,191.5 1082.8,190.8 1086.3,189.1 1089.8,185.2 1093.4,189.1 1098.0,187.5 1101.6,192.7 1106.2,198.5 1110.9,195.0 1113.7,196.9 1116.8,205.5 1121.5,196.2 1125.0,192.7 1132.0,191.5 1135.5,182.1 1139.1,179.8 1143.7,182.8 1147.3,182.1 1151.9,185.2 1155.5,173.9 1159.0,168.0 1162.5,164.5 1166.0,166.4 1170.7,162.9 1174.2,167.6 1177.7,166.4 1181.2,175.1 1185.5,173.4 1189.4,178.6 1194.1,187.5 1197.2,187.5"/>
<g stroke="#222" stroke-width="1.2" fill="none">
<line x1="1197.3" y1="37" x2="1197.3" y2="334.6"/>
<line x1="1197.3" y1="323.0" x2="1202.3" y2="323.0"/>
<line x1="1197.3" y1="309.7" x2="1202.3" y2="309.7"/>
<line x1="1192.3" y1="296.4" x2="1203.5" y2="296.4"/>
<line x1="1197.3" y1="283.1" x2="1202.3" y2="283.1"/>
<line x1="1197.3" y1="269.8" x2="1202.3" y2="269.8"/>
<line x1="1197.3" y1="256.6" x2="1202.3" y2="256.6"/>
<line x1="1197.3" y1="243.3" x2="1202.3" y2="243.3"/>
<line x1="1192.3" y1="230.0" x2="1203.5" y2="230.0"/>
<line x1="1197.3" y1="216.7" x2="1202.3" y2="216.7"/>
<line x1="1197.3" y1="203.4" x2="1202.3" y2="203.4"/>
<line x1="1197.3" y1="190.2" x2="1202.3" y2="190.2"/>
<line x1="1197.3" y1="176.9" x2="1202.3" y2="176.9"/>
<line x1="1192.3" y1="163.6" x2="1203.5" y2="163.6"/>
<line x1="1197.3" y1="150.3" x2="1202.3" y2="150.3"/>
<line x1="1197.3" y1="137.0" x2="1202.3" y2="137.0"/>
<line x1="1197.3" y1="123.8" x2="1202.3" y2="123.8"/>
<line x1="1197.3" y1="110.5" x2="1202.3" y2="110.5"/>
<line x1="1192.3" y1="97.2" x2="1203.5" y2="97.2"/>
<line x1="1197.3" y1="83.9" x2="1202.3" y2="83.9"/>
<line x1="1197.3" y1="70.6" x2="1202.3" y2="70.6"/>
<line x1="1197.3" y1="57.4" x2="1202.3" y2="57.4"/>
<line x1="1197.3" y1="44.1" x2="1202.3" y2="44.1"/>
</g>
<line x1="1187" y1="97.2" x2="1192" y2="97.2" stroke="#dcdcdc" stroke-width="1"/>
<text class="tk" x="1211" y="101.7">122.00</text>
<line x1="1187" y1="163.6" x2="1192" y2="163.6" stroke="#dcdcdc" stroke-width="1"/>
<text class="tk" x="1211" y="168.1">120.00</text>
<line x1="1187" y1="230.0" x2="1192" y2="230.0" stroke="#dcdcdc" stroke-width="1"/>
<text class="tk" x="1211" y="234.5">118.00</text>
<line x1="1187" y1="296.4" x2="1192" y2="296.4" stroke="#dcdcdc" stroke-width="1"/>
<text class="tk" x="1211" y="300.9">116.00</text>
<text class="ax" transform="translate(1262.5,187.4) rotate(90)" text-anchor="middle">Price [USDT]</text>
<text class="ax" x="8.6" y="71.5" font-size="14.4">Volume</text>
<rect x="8.2" y="77.8" width="29.2" height="245.8" fill="url(#cb)" stroke="#111" stroke-width="1.2"/>
<line x1="32" y1="78.8" x2="37.4" y2="78.8" stroke="#111" stroke-width="1.2"/>
<text class="tk" x="52.4" y="82.5" font-size="11.6">8 M</text>
<line x1="32" y1="139.5" x2="37.4" y2="139.5" stroke="#111" stroke-width="1.2"/>
<text class="tk" x="52.4" y="143.8" font-size="11.6">6 M</text>
<line x1="32" y1="200.8" x2="37.4" y2="200.8" stroke="#111" stroke-width="1.2"/>
<text class="tk" x="52.4" y="205.1" font-size="11.6">4 M</text>
<line x1="32" y1="262.1" x2="37.4" y2="262.1" stroke="#111" stroke-width="1.2"/>
<text class="tk" x="52.4" y="266.4" font-size="11.6">2 M</text>
<text class="tk" x="52.4" y="327.2" font-size="11.6">0</text>
<g stroke="#e6e6e6" stroke-width="1" fill="none">
<line x1="175.0" y1="357.9" x2="175.0" y2="571.3"/>
<line x1="359.5" y1="357.9" x2="359.5" y2="571.3"/>
<line x1="544.3" y1="357.9" x2="544.3" y2="571.3"/>
<line x1="728.4" y1="357.9" x2="728.4" y2="571.3"/>
<line x1="912.9" y1="357.9" x2="912.9" y2="571.3"/>
<line x1="1098.0" y1="357.9" x2="1098.0" y2="571.3"/>
<line x1="94.1" y1="571.3" x2="1197.5" y2="571.3"/>
<line x1="94.1" y1="528.6" x2="1197.5" y2="528.6"/>
<line x1="94.1" y1="485.9" x2="1197.5" y2="485.9"/>
<line x1="94.1" y1="443.3" x2="1197.5" y2="443.3"/>
<line x1="94.1" y1="400.6" x2="1197.5" y2="400.6"/>
<line x1="94.1" y1="357.9" x2="1197.5" y2="357.9"/>
<line x1="1197.5" y1="357.9" x2="1197.5" y2="571.3"/>
</g>
<g opacity="1">
<path d="M123.9 501.5 H143.6 M125.8 501.5 V520.5 L97.2 558.5 Q93.5 566.8 102 567.2 H165.5 Q174 566.8 170.3 558.5 L141.7 520.5 V501.5" fill="none" stroke="#e6e8ea" stroke-width="2.2" stroke-linejoin="round"/>
<path d="M102.5 563.5 Q103 557 108 552 Q113 545 118.5 543.5 Q123 543 127 548 L131 553 Q135 556 139 552.5 Q145 547 150 548 Q156 549.5 161 555 Q166 560 166 563.5 Q166 565.5 163 565.5 H105.5 Q102.5 565.5 102.5 563.5 Z" fill="#dfe8ec"/>
<g stroke="#ffffff" stroke-width="1.3"><line x1="127" y1="540" x2="140" y2="540"/><line x1="126" y1="544.5" x2="141" y2="544.5"/><line x1="127" y1="549" x2="140" y2="549"/><line x1="128" y1="553.5" x2="139" y2="553.5"/></g>
<g stroke="#dfe8ec" stroke-width="1.3"><line x1="129" y1="538" x2="138" y2="538"/></g>
<text x="185.6" y="530.3" font-size="33.5" font-weight="bold" fill="#d8dbde" stroke="#d8dbde" stroke-width="1.4" textLength="146" lengthAdjust="spacingAndGlyphs">MATERIAL</text>
<text x="185.6" y="566.4" font-size="33.5" font-weight="bold" fill="#d8dbde" stroke="#d8dbde" stroke-width="1.4" textLength="172.4" lengthAdjust="spacingAndGlyphs">INDICATORS</text>
</g>
<polyline clip-path="url(#cp2)" fill="none" stroke="#1f77b4" stroke-width="2.0" stroke-linejoin="round" stroke-linecap="butt" points="94.0,421.3 101.7,422.6 108.4,427.7 116.8,431.3 123.5,430.3 128.5,432.0 131.8,437.7 136.9,450.4 139.5,452.1 141.9,437.7 146.9,440.4 155.3,439.7 160.3,435.4 163.6,428.7 167.0,432.0 172.0,430.3 180.4,429.3 187.1,428.7 192.1,432.0 197.1,442.0 203.8,448.7 210.5,456.4 217.2,452.1 222.2,448.7 227.2,457.1 230.6,460.5 237.3,456.4 244.0,454.4 249.0,457.1 252.3,462.1 259.0,459.8 264.1,450.4 269.1,443.7 274.1,443.1 278.1,447.1 280.8,436.4 283.5,430.3 287.5,440.4 290.2,439.7 295.9,425.3 300.9,415.3 304.2,407.6 310.9,408.6 317.6,403.6 324.3,398.5 330.0,398.5 336.7,393.5 340.1,392.8 343.4,396.9 350.1,391.8 356.8,383.5 361.8,376.1 366.9,372.8 373.6,371.8 380.3,366.7 385.3,361.7 390.3,363.4 397.0,364.1 402.0,361.7 408.7,360.7 417.1,361.0 423.8,360.0 430.5,361.7 437.2,360.0 443.8,362.7 450.5,360.0 457.2,360.0 463.9,364.1 470.6,365.1 479.0,367.4 487.4,369.4 495.7,370.1 504.1,371.8 512.5,374.1 517.5,380.1 522.5,382.8 527.5,383.5 534.2,389.5 540.9,393.5 547.6,396.2 555.0,400.2 560.0,405.2 566.7,410.3 570.1,413.6 575.1,418.6 581.8,422.0 588.5,430.3 593.5,438.7 600.2,443.7 606.9,450.4 615.3,455.4 623.6,458.8 632.0,465.5 638.7,459.8 645.4,465.5 653.8,470.5 662.1,476.5 668.8,482.2 673.9,488.9 680.5,490.6 685.6,492.3 692.3,497.3 699.0,502.3 705.6,504.0 712.3,507.3 717.4,510.7 721.4,487.9 727.4,490.6 734.1,495.6 740.8,504.0 747.5,514.0 754.2,516.7 759.2,515.7 764.2,520.7 770.9,525.7 775.9,529.7 782.6,527.4 786.7,523.4 793.4,521.4 800.1,525.7 806.8,530.8 813.5,532.4 820.2,534.1 826.9,540.8 835.2,542.5 845.3,543.5 853.6,542.5 862.0,539.1 868.7,540.8 877.1,539.1 883.8,532.4 892.1,530.8 900.5,527.4 907.2,524.7 913.9,523.4 918.9,525.7 923.3,539.1 927.3,541.5 935.6,540.1 944.0,535.8 952.4,533.4 960.8,530.8 965.8,531.4 974.1,527.4 980.8,522.4 985.9,527.4 994.2,525.7 1000.9,523.4 1007.6,525.7 1016.7,523.1 1023.4,525.7 1030.1,530.8 1036.8,538.1 1041.8,537.4 1046.8,544.1 1051.8,550.2 1058.5,545.8 1063.6,549.2 1068.6,554.2 1073.6,562.5 1078.6,556.9 1083.6,558.2 1089.7,550.8 1093.7,555.9 1097.7,553.5 1102.1,561.5 1107.1,559.2 1112.1,557.5 1117.1,567.6 1122.1,570.2 1130.5,570.2 1137.2,564.2 1142.2,560.9 1148.9,563.6 1155.6,560.2 1162.3,554.2 1167.3,556.9 1174.0,559.2 1180.7,561.5 1187.4,563.6 1192.4,566.9 1197.4,569.2"/>
<polyline clip-path="url(#cp2)" fill="none" stroke="#ff7f0e" stroke-width="2.0" stroke-linejoin="round" stroke-linecap="butt" points="94.0,570.9 100.0,569.2 106.7,570.9 115.1,570.2 123.5,567.6 131.8,565.9 138.5,564.2 145.2,560.2 155.3,558.2 165.3,556.9 173.7,555.9 180.4,552.5 187.1,547.5 193.8,540.8 200.5,532.4 205.5,525.7 212.2,520.7 218.9,514.0 225.6,509.0 232.3,502.3 240.6,497.3 247.3,493.9 254.0,490.6 260.7,483.9 267.4,478.9 274.1,475.5 282.5,467.8 289.2,462.1 295.9,455.4 302.6,448.7 309.2,443.7 315.9,440.4 322.6,435.4 326.7,432.0 333.4,427.7 340.1,422.0 346.8,413.6 353.5,406.9 360.2,400.9 368.5,396.9 376.9,391.8 383.6,387.5 390.3,383.5 398.7,380.1 405.4,375.1 412.1,370.8 420.4,366.7 428.8,364.1 437.2,361.7 445.5,360.0 453.9,358.4 463.9,358.4 474.0,360.0 484.0,361.0 490.7,360.0 497.4,363.4 504.1,366.7 510.8,370.1 517.5,375.1 524.2,380.1 530.9,383.5 537.6,386.2 544.3,389.5 550.0,391.8 556.7,396.9 563.4,401.9 571.8,408.6 580.1,416.9 588.5,422.0 596.9,428.7 605.2,433.7 613.6,440.4 622.0,447.1 628.7,446.4 633.7,450.4 642.1,455.4 650.4,460.5 658.8,465.5 667.2,470.5 675.5,476.5 683.9,483.9 692.3,492.3 700.6,499.0 709.0,504.0 717.4,509.0 725.7,513.3 734.1,516.7 742.5,519.0 750.8,521.4 759.2,520.7 767.6,522.4 775.9,525.1 784.3,524.1 793.4,521.4 800.1,525.7 810.1,529.1 820.2,530.8 830.2,530.8 840.3,532.4 848.6,530.8 855.3,526.7 863.7,522.4 872.1,517.4 880.4,514.0 888.8,512.3 895.5,508.0 903.9,504.0 912.2,501.3 918.9,499.0 927.3,492.3 935.6,487.2 944.0,482.2 952.4,476.5 960.8,470.5 969.1,466.5 977.5,462.1 984.2,458.8 992.6,457.8 999.2,455.4 1007.6,452.1 1014.3,448.7 1018.4,448.7 1025.1,449.7 1031.8,451.1 1040.1,447.1 1048.5,448.7 1056.9,443.1 1063.6,445.4 1070.3,445.4 1078.6,441.0 1085.3,440.4 1090.3,437.7 1097.0,440.4 1103.7,442.0 1110.4,443.7 1117.1,444.7 1123.8,443.1 1130.5,442.0 1138.9,438.7 1147.2,440.4 1153.9,441.0 1160.6,437.7 1165.6,437.0 1172.3,438.7 1179.0,438.7 1185.7,440.4 1192.4,442.0 1197.4,441.4"/>
<polyline clip-path="url(#cp2)" fill="none" stroke="#2ca02c" stroke-width="2.0" stroke-linejoin="round" stroke-linecap="butt" points="94.0,438.7 101.7,442.0 108.4,447.1 116.8,452.1 123.5,453.8 128.5,453.1 132.8,454.4 136.2,473.2 140.2,473.9 143.6,467.2 150.3,468.8 160.3,469.8 170.3,467.8 178.7,465.5 185.4,462.1 190.4,463.1 197.1,463.8 202.1,459.8 208.8,462.1 217.2,457.1 222.2,454.4 225.6,457.1 229.9,463.1 235.6,458.8 242.3,455.4 249.0,452.1 254.0,450.4 259.0,445.4 264.1,438.7 269.1,432.0 272.4,431.3 277.4,438.7 280.8,436.4 284.1,428.7 289.2,427.0 294.2,422.0 299.2,415.3 304.2,408.6 310.9,407.6 317.6,400.9 324.3,397.5 333.4,395.2 338.4,392.8 341.8,390.8 345.1,392.8 351.8,385.1 358.5,378.5 365.2,372.8 373.6,370.8 380.3,366.1 385.9,361.0 392.0,362.7 398.7,361.7 405.4,359.4 413.7,359.0 423.8,359.0 433.8,358.4 443.8,359.0 453.9,359.4 460.6,362.7 467.3,366.1 474.0,368.4 480.7,371.8 487.4,373.4 495.7,376.1 504.1,379.5 510.8,383.5 517.5,386.8 522.5,390.2 529.2,391.8 535.9,394.2 542.6,396.9 549.3,399.5 556.7,401.9 561.7,408.6 568.4,415.3 573.4,422.0 580.1,427.0 586.8,433.7 593.5,440.4 600.2,448.7 608.6,456.4 616.9,463.1 625.3,470.5 632.0,475.5 638.7,476.5 647.1,482.2 655.4,487.2 663.8,493.9 672.2,499.0 680.5,503.3 687.2,504.6 693.9,510.0 702.3,515.7 710.7,520.7 717.4,525.7 721.4,512.3 725.7,519.0 732.4,522.4 739.1,527.4 745.8,530.8 750.8,535.8 757.5,537.4 765.9,540.8 772.6,544.1 779.3,545.8 786.7,543.5 793.4,544.1 800.1,547.5 808.5,552.5 816.8,554.2 825.2,555.9 833.6,557.5 841.9,560.2 850.3,560.9 858.7,559.2 867.0,558.2 875.4,554.9 883.8,553.5 892.1,549.2 900.5,547.5 908.9,545.8 915.6,544.1 920.6,547.5 923.9,567.6 927.3,570.9 934.0,569.2 942.3,566.9 950.7,564.2 959.1,561.5 967.4,559.2 975.8,558.2 984.2,560.2 992.6,557.5 1000.9,554.9 1009.3,554.2 1018.4,551.8 1025.1,553.5 1031.8,554.9 1040.1,556.9 1048.5,560.9 1056.9,561.5 1063.6,565.9 1070.3,568.2 1076.9,569.2 1083.6,564.2 1090.3,559.2 1097.0,559.2 1102.1,561.5 1108.8,557.5 1115.4,558.2 1123.8,559.2 1132.2,560.9 1138.9,559.2 1147.2,562.5 1153.9,561.5 1162.3,559.2 1170.7,560.9 1179.0,562.5 1187.4,564.2 1192.4,567.6 1197.4,568.2"/>
<polyline clip-path="url(#cp2)" fill="none" stroke="#d62728" stroke-width="2.0" stroke-linejoin="round" stroke-linecap="butt" points="94.0,360.0 105.0,359.0 108.4,362.7 116.8,363.4 126.8,362.4 130.2,366.7 135.2,378.5 140.2,390.2 143.6,381.8 149.6,388.5 156.9,385.1 161.0,375.1 163.6,365.1 166.3,373.4 170.3,369.4 177.7,371.8 185.4,375.1 192.1,381.8 195.4,393.5 198.8,410.3 203.8,428.7 208.8,438.7 213.9,442.0 220.5,440.4 225.6,445.4 230.6,457.1 235.6,454.4 240.6,457.8 247.3,462.1 254.0,472.2 259.0,476.5 264.1,471.2 270.8,467.2 275.8,458.8 280.8,440.4 283.5,442.0 287.5,457.8 290.8,457.1 295.9,447.1 300.9,437.7 305.9,433.7 314.3,434.4 321.0,437.7 326.7,433.7 331.7,439.7 338.4,433.7 343.4,443.7 350.1,445.4 356.8,443.7 363.5,435.4 368.5,430.3 373.6,431.0 380.3,428.7 385.9,426.0 392.0,432.0 398.7,434.4 405.4,433.7 412.1,436.4 418.7,437.0 423.8,439.7 430.5,435.4 437.2,433.0 442.2,440.4 447.2,445.4 452.2,443.7 458.9,439.7 467.3,437.7 474.0,434.4 482.3,436.4 489.0,435.4 494.1,433.0 502.4,433.0 507.4,430.3 512.5,427.0 517.5,432.0 522.5,433.7 528.2,428.7 534.2,438.7 540.9,439.7 545.9,442.0 550.0,440.4 556.7,445.4 563.4,443.7 573.4,448.7 583.5,445.4 593.5,443.7 600.2,448.7 610.3,450.4 620.3,447.1 627.0,445.4 633.7,450.4 640.4,440.4 647.1,443.1 657.1,442.0 665.5,447.1 670.5,452.1 674.5,459.8 682.2,456.4 690.6,453.8 697.3,459.8 704.0,457.8 710.7,454.4 716.7,453.8 720.7,437.0 724.7,419.6 730.8,423.0 735.8,426.3 740.8,437.0 744.8,447.7 750.8,446.4 759.2,447.7 764.2,455.4 769.3,454.4 775.9,459.8 782.6,453.8 788.4,450.4 796.7,453.1 805.1,459.8 813.5,454.4 821.8,457.1 830.2,463.8 835.2,467.2 840.3,465.5 850.3,467.2 858.7,465.5 867.0,468.8 877.1,473.2 883.8,469.8 892.1,465.5 900.5,468.8 907.2,467.8 913.9,466.5 922.3,472.2 930.6,472.2 939.0,474.5 947.4,473.2 955.7,472.2 964.1,468.8 972.5,467.2 980.8,462.1 984.9,470.5 992.6,468.8 999.2,470.5 1007.6,475.5 1014.3,476.5 1023.4,478.9 1028.4,480.5 1031.8,487.2 1036.8,502.3 1041.8,500.6 1045.1,507.3 1048.5,514.0 1053.5,512.3 1058.5,509.0 1063.6,512.3 1068.6,520.7 1071.9,524.1 1075.3,533.4 1080.3,532.4 1085.3,531.4 1089.3,529.7 1093.7,539.1 1097.7,537.4 1102.1,545.8 1106.4,551.5 1112.1,550.2 1115.4,560.9 1118.8,569.2 1123.8,570.9 1132.2,570.9 1137.2,562.5 1142.2,560.2 1147.2,561.5 1150.6,563.6 1155.6,557.5 1160.6,549.2 1163.3,545.8 1167.3,548.2 1174.0,550.8 1180.7,553.5 1187.4,558.2 1192.4,561.5 1197.4,563.2"/>
<polyline clip-path="url(#cp2)" fill="none" stroke="#9467bd" stroke-width="2.0" stroke-linejoin="round" stroke-linecap="butt" points="94.0,522.4 128.5,522.4 131.8,473.2 139.5,473.2 143.6,357.7 194.4,357.7 197.8,383.5 224.6,383.5 228.2,427.7 248.0,427.7 251.7,462.1 278.1,462.1 282.5,379.5 287.5,567.6 294.2,567.6 298.2,506.7 301.5,506.7 305.2,477.2 420.4,477.2 424.8,452.1 428.8,502.3 432.1,502.3 436.2,469.5 447.9,469.5 452.2,443.1 494.1,443.1 498.1,483.2 532.6,483.2 536.6,517.4 582.5,517.4 586.2,553.2 717.4,553.2 721.4,519.0 724.7,544.1 748.2,544.1 751.8,570.9 789.4,570.9 792.7,535.8 815.8,535.8 820.2,563.2 827.9,563.2 831.2,548.2 878.7,548.2 881.4,523.4 888.8,523.4 893.8,474.9 1051.8,474.9 1055.2,499.6 1074.3,499.6 1078.0,474.9 1132.2,474.9 1135.5,421.0 1197.4,421.0"/>
<g stroke="#2a2a2a" stroke-width="1.5" fill="none">
<line x1="94.1" y1="357.3" x2="94.1" y2="571.9"/>
<line x1="93.5" y1="571.3" x2="1197.5" y2="571.3"/>
<line x1="87.0" y1="571.3" x2="96.8" y2="571.3"/>
<line x1="89.4" y1="562.8" x2="94.1" y2="562.8"/>
<line x1="89.4" y1="554.2" x2="94.1" y2="554.2"/>
<line x1="89.4" y1="545.7" x2="94.1" y2="545.7"/>
<line x1="89.4" y1="537.2" x2="94.1" y2="537.2"/>
<line x1="87.0" y1="528.6" x2="96.8" y2="528.6"/>
<line x1="89.4" y1="520.1" x2="94.1" y2="520.1"/>
<line x1="89.4" y1="511.5" x2="94.1" y2="511.5"/>
<line x1="89.4" y1="503.0" x2="94.1" y2="503.0"/>
<line x1="89.4" y1="494.5" x2="94.1" y2="494.5"/>
<line x1="87.0" y1="485.9" x2="96.8" y2="485.9"/>
<line x1="89.4" y1="477.4" x2="94.1" y2="477.4"/>
<line x1="89.4" y1="468.9" x2="94.1" y2="468.9"/>
<line x1="89.4" y1="460.3" x2="94.1" y2="460.3"/>
<line x1="89.4" y1="451.8" x2="94.1" y2="451.8"/>
<line x1="87.0" y1="443.3" x2="96.8" y2="443.3"/>
<line x1="89.4" y1="434.7" x2="94.1" y2="434.7"/>
<line x1="89.4" y1="426.2" x2="94.1" y2="426.2"/>
<line x1="89.4" y1="417.7" x2="94.1" y2="417.7"/>
<line x1="89.4" y1="409.1" x2="94.1" y2="409.1"/>
<line x1="87.0" y1="400.6" x2="96.8" y2="400.6"/>
<line x1="89.4" y1="392.0" x2="94.1" y2="392.0"/>
<line x1="89.4" y1="383.5" x2="94.1" y2="383.5"/>
<line x1="89.4" y1="375.0" x2="94.1" y2="375.0"/>
<line x1="89.4" y1="366.4" x2="94.1" y2="366.4"/>
<line x1="87.0" y1="357.9" x2="96.8" y2="357.9"/>
<line x1="175.0" y1="569.3" x2="175.0" y2="577.5"/>
<line x1="359.5" y1="569.3" x2="359.5" y2="577.5"/>
<line x1="544.3" y1="569.3" x2="544.3" y2="577.5"/>
<line x1="728.4" y1="569.3" x2="728.4" y2="577.5"/>
<line x1="912.9" y1="569.3" x2="912.9" y2="577.5"/>
<line x1="1098.0" y1="569.3" x2="1098.0" y2="577.5"/>
</g>
<text class="tk" x="81.0" y="575.7" text-anchor="end">0</text>
<text class="tk" x="80.5" y="533.0" text-anchor="end">200.00 m</text>
<text class="tk" x="80.5" y="490.3" text-anchor="end">400.00 m</text>
<text class="tk" x="80.5" y="447.7" text-anchor="end">600.00 m</text>
<text class="tk" x="80.5" y="405.0" text-anchor="end">800.00 m</text>
<text class="tk" x="76.6" y="362.3" text-anchor="end">1.000</text>
<text class="tk" x="175.0" y="593.5" text-anchor="middle" font-size="11.8">12h</text>
<text class="tk" x="359.5" y="593.5" text-anchor="middle" font-size="11.8">16h</text>
<text class="tk" x="544.3" y="593.5" text-anchor="middle" font-size="11.8">20h</text>
<text class="tk" x="728.4" y="593.5" text-anchor="middle" font-size="11.8">4/06</text>
<text class="tk" x="912.9" y="593.5" text-anchor="middle" font-size="11.8">4h</text>
<text class="tk" x="1098.0" y="593.5" text-anchor="middle" font-size="11.8">8h</text>
<text class="ax" transform="translate(16.8,465.6) rotate(-90)" text-anchor="middle">Normalized CVD [arb. u.]</text>
<text class="ax" x="647" y="616.8" text-anchor="middle" >Date (UTC)</text>
<text class="k" y="389.8" font-size="26"><tspan x="835.4">곰지네</tspan> <tspan x="917.2" letter-spacing="0.9">트레이딩</tspan></text>
<text class="k" x="1022.8" y="390" font-size="25.8" textLength="52.4" lengthAdjust="spacingAndGlyphs">CVD</text>
<text class="k" x="774.6" y="422.8" font-size="24.5" textLength="356.5" lengthAdjust="spacing">Powered By Material Indictors</text>
<text class="k" x="940.2" y="652.2" font-size="26" textLength="307.2" lengthAdjust="spacing">https://t.me/oddstrading2</text>
<path d="M2.2 690 V647.5 H680 V690" fill="#fff" stroke="#e8e8e8" stroke-width="1"/>
<line x1="12.9" y1="670" x2="35.5" y2="670" stroke="#1f77b4" stroke-width="2.2"/>
<text class="lg" x="41.6" y="674.3">all orders</text>
<line x1="96.3" y1="670" x2="119.0" y2="670" stroke="#ff7f0e" stroke-width="2.2"/>
<text class="lg" x="125.2" y="674.3">$100 &lt; i &lt; $1k</text>
<line x1="207.0" y1="670" x2="229.7" y2="670" stroke="#2ca02c" stroke-width="2.2"/>
<text class="lg" x="235.7" y="674.3">$1k &lt; i &lt; $10k</text>
<line x1="316.4" y1="670" x2="339.0" y2="670" stroke="#d62728" stroke-width="2.2"/>
<text class="lg" x="346.0" y="674.3">$10k &lt; i &lt; $100k</text>
<line x1="440.4" y1="670" x2="463.0" y2="670" stroke="#9467bd" stroke-width="2.2"/>
<text class="lg" x="469.9" y="674.3">$100k &lt; i &lt; $1M</text>
<line x1="561.5" y1="670" x2="584.2" y2="670" stroke="#8c564b" stroke-width="2.2"/>
<text class="lg" x="590.2" y="674.3">$1M &lt; i &lt; $10M</text>
</svg>
</body></html>
